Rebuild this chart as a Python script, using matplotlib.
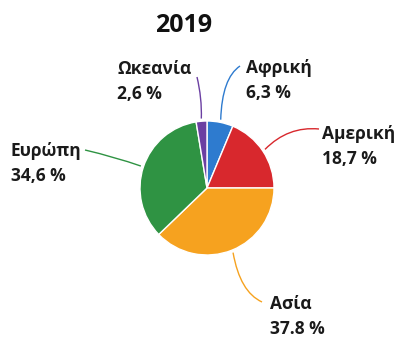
import numpy as np
import matplotlib
matplotlib.use("Agg")
import matplotlib.pyplot as plt
from matplotlib.path import Path
from matplotlib.patches import PathPatch

# Continents and their share (%) in 2019
continents = ["Αφρική", "Αμερική", "Ασία", "Ευρώπη", "Ωκεανία"]
shares = [6.3, 18.7, 37.8, 34.6, 2.6]
share_labels = ["6,3 %", "18,7 %", "37.8 %", "34,6 %", "2,6 %"]
colors = ["#2E7BCF", "#D8282D", "#F6A21F", "#2F9343", "#6B3FA2"]

W, H = 399, 342
fig = plt.figure(figsize=(W / 100, H / 100), dpi=100)
ax = fig.add_axes([0, 0, 1, 1])

FONT = ["Open Sans", "DejaVu Sans"]


def Y(y):
    return H - y


cx, cy, r = 207, Y(188), 67
start = 90
ax.pie(shares, colors=colors, startangle=start, counterclock=False,
       center=(cx, cy), radius=r, frame=True,
       wedgeprops=dict(edgecolor="white", linewidth=1.0))
ax.set_xlim(0, W)
ax.set_ylim(0, H)
ax.axis("off")

ax.text(183.5, Y(25), "2019", ha="center", va="center", fontsize=18,
        fontweight="bold", family=FONT, color="#111111")

# label anchor: left edge and baseline of the first line
label_pos = {
    "Αφρική": (246, 73),
    "Αμερική": (322, 139),
    "Ασία": (270, 309),
    "Ευρώπη": (11, 156),
    "Ωκεανία": (117, 74),
}
# leader end point and curve control point
leader = {
    "Αφρική": ((240, 66), (222, 78)),
    "Αμερική": ((319, 129), (288, 126)),
    "Ασία": ((262, 302), (240, 292)),
    "Ευρώπη": ((85, 150), (115, 157)),
    "Ωκεανία": ((197, 77), (202, 98)),
}
LINE_GAP = 25

cum = np.cumsum([0] + shares[:-1])
for name, v, c0, lab, col in zip(continents, shares, cum, share_labels, colors):
    mid = np.deg2rad(start - (c0 + v / 2) * 3.6)
    ax_ = cx + r * 1.04 * np.cos(mid)
    ay_ = cy + r * 1.04 * np.sin(mid)
    (ex, ey), (qx, qy) = leader[name]
    path = Path([(ax_, ay_), (qx, Y(qy)), (ex, Y(ey))],
                [Path.MOVETO, Path.CURVE3, Path.CURVE3])
    ax.add_patch(PathPatch(path, facecolor="none", edgecolor=col, lw=1.0))
    tx, ty = label_pos[name]
    for k, s in enumerate((name, lab)):
        ax.text(tx, Y(ty + k * LINE_GAP), s, ha="left", va="baseline",
                fontsize=12.5, fontweight="bold", family=FONT,
                color="#1a1a1a")

fig.savefig("out.png", dpi=100)
